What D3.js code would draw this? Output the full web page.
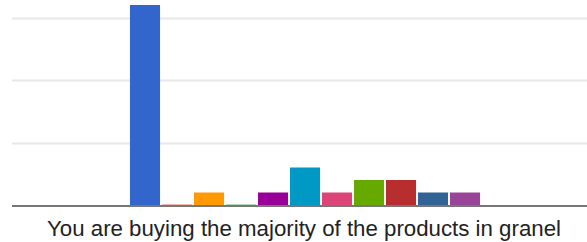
<!DOCTYPE html>
<html>
  <head>
    <title></title>
    <meta charset="utf-8">
    <script src="https://d3js.org/d3.v7.min.js"></script>
    <style>
      body {
        margin: 0;
        background: #fff;
      }
      svg {
        display: block;
      }
    </style>
  </head>
  <body>
    <div id="chart"></div>
    <script>
      // data
      const categories = ["You are buying the majority of the products in granel"]
      const seriesNames = ["0", "1", "2", "3", "4", "5", "6", "7", "8", "9", "10"]
      const seriesValues = [16, 0, 1, 0, 1, 3, 1, 2, 2, 1, 1]
      const yTicks = [5, 10, 15, 20]
      const colors = ["#3366cc", "#dc3912", "#ff9900", "#109618", "#990099", "#0099c6",
                      "#dd4477", "#66aa00", "#b82e2e", "#316395", "#994499"]

      const width = 587
      const height = 242
      const baseY = 205

      let svg = d3.select('#chart').append('svg')
        .attr('width', width)
        .attr('height', height)

      let y = d3.scaleLinear()
        .domain([0, 20])
        .range([baseY, baseY - 250])

      let x0 = d3.scaleBand()
        .domain(categories)
        .range([12, 598])
        .paddingOuter(0.337)

      let x1 = d3.scaleBand()
        .domain(seriesNames)
        .range([0, x0.bandwidth()])
        .paddingInner(0.06)

      let color = d3.scaleOrdinal()
        .domain(seriesNames)
        .range(colors)

      // gridlines
      svg.append('g')
        .selectAll('line')
        .data(yTicks)
        .join('line')
          .attr('x1', 12)
          .attr('x2', width)
          .attr('y1', d => Math.round(y(d)) + 0.5)
          .attr('y2', d => Math.round(y(d)) + 0.5)
          .attr('stroke', '#e8e8e8')
          .attr('stroke-width', 2)

      let group = svg.append('g')
        .selectAll('g')
        .data(categories)
        .join('g')
          .attr('transform', d => `translate(${x0(d)},0)`)

      group.selectAll('rect')
        .data(seriesNames.map((s, i) => ({ name: s, value: seriesValues[i] })))
        .join('rect')
          .attr('x', d => x1(d.name))
          .attr('width', x1.bandwidth())
          .attr('y', d => d.value > 0 ? y(d.value) : baseY - 1)
          .attr('height', d => d.value > 0 ? baseY - y(d.value) : 1)
          .attr('fill', d => color(d.name))
          .attr('fill-opacity', d => d.value > 0 ? 1 : 0.35)

      // baseline
      svg.append('line')
        .attr('x1', 12)
        .attr('x2', width)
        .attr('y1', baseY + 1)
        .attr('y2', baseY + 1)
        .attr('stroke', '#777')
        .attr('stroke-width', 2)

      // category label
      svg.append('g')
        .selectAll('text')
        .data(categories)
        .join('text')
          .attr('x', d => x0(d) + x0.bandwidth() / 2 - 1)
          .attr('y', 236)
          .attr('text-anchor', 'middle')
          .attr('font-family', 'Liberation Sans, Arial, sans-serif')
          .attr('font-size', 22)
          .attr('textLength', 514)
          .attr('lengthAdjust', 'spacingAndGlyphs')
          .attr('fill', '#222')
          .text(d => d)
    </script>
  </body>
</html>
